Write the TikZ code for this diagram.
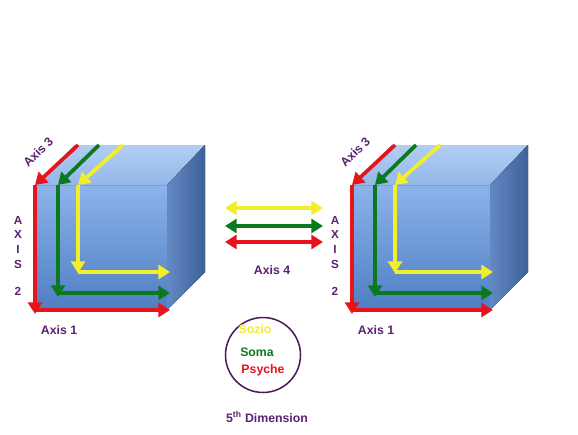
\documentclass[tikz,border=0pt]{standalone}
\usepackage{fontspec}
\setmainfont{Liberation Sans}
\usetikzlibrary{arrows.meta,positioning}
\definecolor{axred}{HTML}{E8141B}
\definecolor{axgreen}{HTML}{0B7A1E}
\definecolor{axyellow}{HTML}{F2EE2A}
\definecolor{axpurple}{HTML}{5B2272}
\definecolor{ringpurple}{HTML}{4A1A5C}
\definecolor{fronttop}{HTML}{8DB3EA}
\definecolor{frontbot}{HTML}{4E7EC3}
\definecolor{toplight}{HTML}{B2CEF3}
\definecolor{topdark}{HTML}{93B7EA}
\definecolor{sidelight}{HTML}{6389C4}
\definecolor{sidedark}{HTML}{3D6199}
\tikzset{
  >={Triangle[length=10pt,width=12pt]},
  shorten >=0pt,
}

\begin{document}
\begin{tikzpicture}[
  x=0.03cm,y=-0.03cm,
  axis/.style={line width=3.2pt,->},
  both/.style={line width=3.2pt,<->},
  lbl/.style={font=\fontsize{10.5}{12}\selectfont\bfseries,text=axpurple},
  every node/.style={inner sep=0pt}
]

\useasboundingbox[fill=white] (0,0) rectangle (578,434);

\foreach \nm/\x/\w in {L/35/132,R/352/138} {
  % corners of the cube
  \coordinate (ftl\nm) at (\x,185);
  \coordinate (ftr\nm) at (\x+\w,185);
  \coordinate (fbl\nm) at (\x,310);
  \coordinate (fbr\nm) at (\x+\w,310);
  \coordinate (btl\nm) at (\x+40,145);
  \coordinate (btr\nm) at (\x+\w+38,145);
  \coordinate (bbr\nm) at (\x+\w+38,272);

  \fill[top color=fronttop,bottom color=frontbot] (ftl\nm) rectangle (fbr\nm);
  \fill[top color=toplight,bottom color=topdark] (ftl\nm) -- (btl\nm) -- (btr\nm) -- (ftr\nm) -- cycle;
  \fill[left color=sidelight,right color=sidedark] (ftr\nm) -- (btr\nm) -- (bbr\nm) -- (fbr\nm) -- cycle;

  % axis 3
  \coordinate (r3a\nm) at (\x+43,145);
  \coordinate (g3a\nm) at (\x+64,145);
  \coordinate (y3a\nm) at (\x+88,145);
  \coordinate (r3b\nm) at (\x,185);
  \coordinate (g3b\nm) at (\x+23,185);
  \coordinate (y3b\nm) at (\x+43,185);
  % axis 2
  \coordinate (r2b\nm) at (\x,314);
  \coordinate (g2b\nm) at (\x+23,297);
  \coordinate (y2b\nm) at (\x+43,273);
  % axis 1
  \coordinate (r1b\nm) at (\x+\w+3,310);
  \coordinate (g1a\nm) at (\x+23,293);
  \coordinate (g1b\nm) at (\x+\w+3,293);
  \coordinate (y1a\nm) at (\x+43,272);
  \coordinate (y1b\nm) at (\x+\w+3,272);

  \draw[axis,axyellow] (y3a\nm) -- (y3b\nm);
  \draw[axis,axyellow] (y3b\nm) -- (y2b\nm);
  \draw[axis,axyellow] (y1a\nm) -- (y1b\nm);
  \draw[axis,axgreen] (g3a\nm) -- (g3b\nm);
  \draw[axis,axgreen] (g3b\nm) -- (g2b\nm);
  \draw[axis,axgreen] (g1a\nm) -- (g1b\nm);
  \draw[axis,axred] (r3a\nm) -- (r3b\nm);
  \draw[axis,axred] (r3b\nm) -- (r2b\nm);
  \draw[axis,axred] (fbl\nm) -- (r1b\nm);

  \node[lbl,rotate=45] (ax3\nm) at (\x+3,152) {Axis 3};
  \node[lbl,align=center,font=\fontsize{10}{12.5}\selectfont\bfseries] (ax2\nm) at (\x-17,256) {A\\X\\I\\S\\[11pt]2};
  \node[lbl] (ax1\nm) at (\x+24,330) {Axis 1};
}

% axis 4
\coordinate (ya) at (225,208);
\coordinate (yb) at (323,208);
\coordinate (ga) at (225,226);
\coordinate (gb) at (323,226);
\coordinate (ra) at (225,242);
\coordinate (rb) at (323,242);
\draw[both,axyellow] (ya) -- (yb);
\draw[both,axgreen] (ga) -- (gb);
\draw[both,axred] (ra) -- (rb);
\node[lbl] (ax4) at (272,270) {Axis 4};

% fifth dimension
\node[circle,draw=ringpurple,line width=1.3pt,minimum size=64pt] (ring) at (263,355) {};
\node[lbl,text=axyellow] (sozio) at (255,329) {Sozio};
\node[lbl,text=axgreen] (soma) at (257,352) {Soma};
\node[lbl,text=axred] (psyche) at (263,370) {Psyche};
\node[lbl] (dim) at (267,417) {5\textsuperscript{th} Dimension};

\end{tikzpicture}
\end{document}
